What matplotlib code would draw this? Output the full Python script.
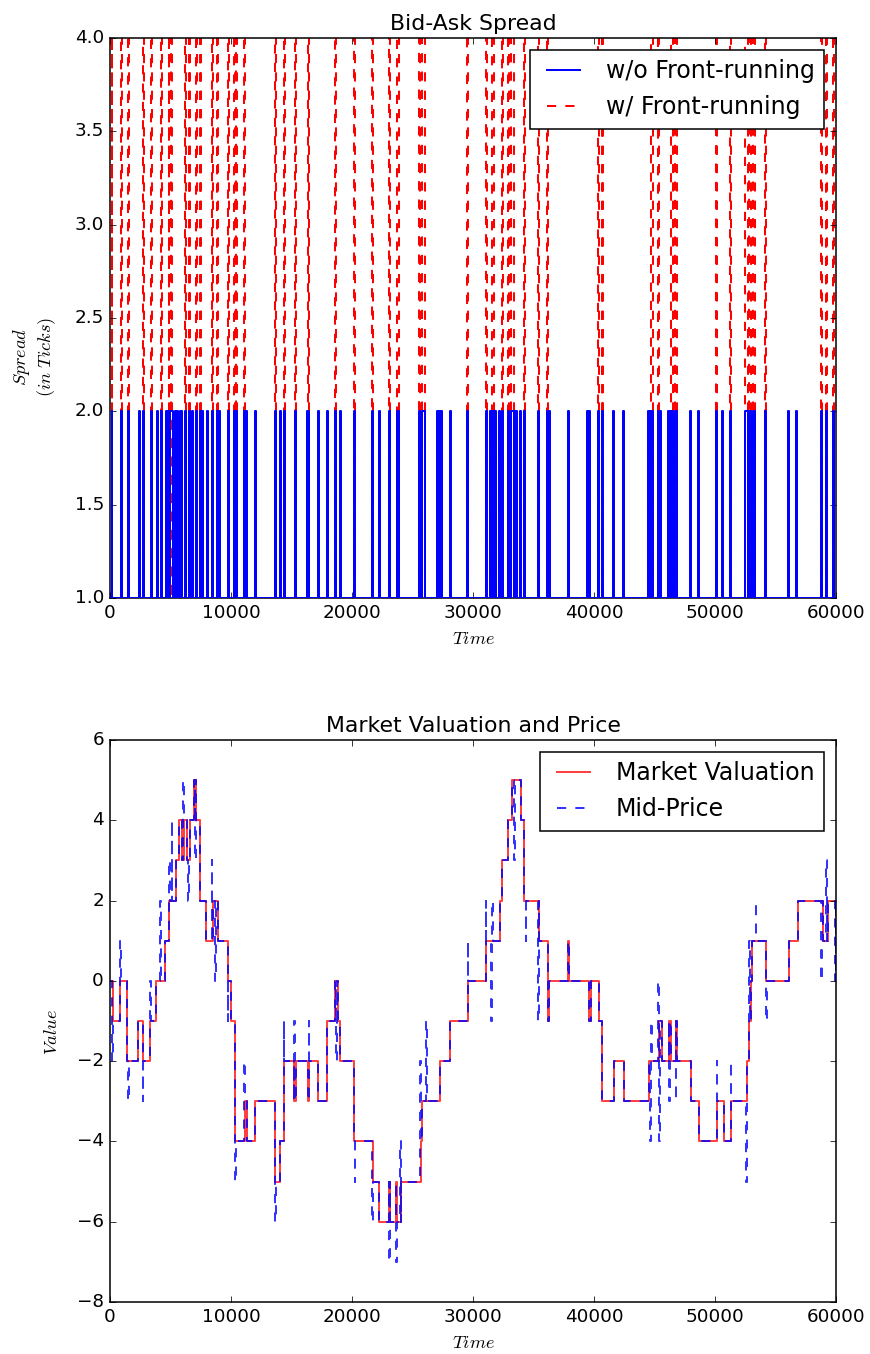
import numpy as np
import matplotlib.pyplot as plt

plt.style.use('classic')

# spread series: intervals (start, end) where the spread widens
spread_base = 1
no_fr_peak = 2
fr_peak = 6
no_fr_spikes = [(150, 200), (900, 960), (1500, 1600), (2400, 2450), (2720, 2780),
                (3380, 3430), (3880, 3930), (4210, 4260), (4630, 4700), (4800, 4900),
                (4950, 5200), (5380, 5450), (5550, 5650), (5750, 5950), (6200, 6250),
                (6530, 6580), (6780, 6830), (7100, 7160), (7430, 7480), (7600, 7650),
                (8010, 8060), (8430, 8480), (8840, 8890), (9000, 9050), (9750, 9800),
                (10250, 10300), (10420, 10500), (11070, 11150), (11250, 11320),
                (11980, 12030), (13630, 13680), (14050, 14100), (14380, 14430),
                (15290, 15340), (16280, 16330), (16400, 16450), (17190, 17240),
                (17950, 18000), (18590, 18640), (19000, 19050), (20160, 20210),
                (21650, 21700), (22230, 22280), (23050, 23100), (23750, 23850),
                (25550, 25650), (25800, 26030), (27020, 27150), (27300, 27440),
                (28100, 28150), (29500, 29550), (31070, 31120), (31400, 31480),
                (31600, 31700), (31850, 31900), (32150, 32200), (32400, 32480),
                (32890, 33000), (33100, 33400), (33500, 33640), (33880, 33950),
                (34200, 34300), (35370, 35420), (36110, 36160), (36300, 36360),
                (37850, 37900), (39420, 39470), (39600, 39670), (40330, 40400),
                (40650, 40740), (41570, 41620), (42400, 42450), (44460, 44600),
                (44750, 44880), (45290, 45340), (45480, 45540), (46110, 46250),
                (46400, 46500), (46700, 46860), (47930, 47980), (48600, 48650),
                (50080, 50130), (50580, 50630), (51240, 51290), (52480, 52700),
                (52800, 53000), (53100, 53300), (54130, 54180), (56030, 56080),
                (56690, 56740), (58760, 58810), (59170, 59220), (59750, 59800)]
fr_spikes = [(150, 200), (900, 960), (1500, 1600), (2720, 2780), (3380, 3430),
             (4210, 4260), (4850, 4900), (5000, 5150), (6200, 6250), (6530, 6580),
             (7100, 7160), (7430, 7480), (8430, 8480), (8840, 8890), (9750, 9800),
             (10250, 10300), (10420, 10500), (11070, 11150), (13630, 13680),
             (14380, 14430), (15290, 15340), (16400, 16450), (18590, 18640),
             (20160, 20210), (21650, 21700), (23050, 23100), (23750, 23850),
             (25550, 25650), (25800, 26030), (29500, 29550), (31070, 31120),
             (31600, 31700), (32400, 32480), (32890, 33000), (33100, 33400),
             (34200, 34300), (35370, 35420), (36110, 36160), (40330, 40400),
             (40650, 40740), (44750, 44880), (45290, 45340), (46400, 46500),
             (46700, 46860), (50080, 50130), (51240, 51290), (52480, 52700),
             (52800, 53000), (53100, 53300), (54130, 54180), (58760, 58810),
             (59170, 59220), (59750, 59800)]

# market valuation: step changes (time, new value)
val_times = [0, 250, 830, 1440, 2350, 2690, 3320, 3800, 4540, 4900, 5460, 5730,
             5950, 6100, 6350, 6600, 6980, 7120, 7450, 7950, 8500, 8920, 9750,
             10030, 10300, 11130, 11330, 11960, 13630, 14040, 14400, 15240, 15340,
             16380, 16480, 17230, 17920, 18620, 18810, 19030, 20200, 21740, 22220,
             23050, 23150, 23600, 23700, 24020, 25680, 25800, 27260, 28093, 29558,
             31050, 32236, 32374, 32927, 33258, 33977, 34253, 35468, 36188, 36300,
             37850, 37950, 39555, 39777, 40383, 40659, 41626, 42455, 44526, 45400,
             45600, 46184, 46350, 46739, 46900, 47982, 48672, 50192, 50745, 51298,
             52679, 52820, 52955, 53050, 54197, 56131, 56822, 58894, 59308]
val_values = [0, -1, 0, -2, -1, -2, -1, 0, 1, 2, 3, 4,
              3, 4, 3, 4, 5, 4, 2, 1, 2, 1, 0,
              -1, -4, -3, -4, -3, -5, -4, -2, -3, -2,
              -3, -2, -3, -1, 0, -1, -2, -4, -5, -6,
              -5, -6, -5, -6, -5, -4, -3, -2, -1, 0,
              1, 2, 3, 4, 5, 4, 2, 1, -1, 0,
              1, 0, -1, 0, -1, -3, -2, -3, -2, -1,
              -2, -1, -2, -1, -2, -3, -4, -3, -4, -3,
              -2, -1, 0, 1, 0, 1, 2, 1, 2]

# mid-price departures from the valuation (time, level)
mid_times = [200, 830, 1520, 2690, 3320, 4140, 4900, 5090, 6070, 6460, 7040, 8400,
             8700, 9720, 10360, 11100, 13670, 14370, 15240, 16430, 18700, 20220,
             21680, 23060, 23670, 23950, 25660, 26150, 29560, 31050, 31500, 31600,
             33300, 33400, 34340, 35380, 36200, 39600, 44640, 44700, 45300, 45400,
             46200, 46740, 50190, 51300, 52560, 52820, 53369, 54200, 58800, 59200,
             59900]
mid_values = [-2, 1, -3, -3, 0, 2, 3, 4, 5, 2, 3, 3,
              0, -1, -5, -2, -6, -1, -1, -1, -2, -5,
              -6, -7, -7, -4, -2, -1, 1, 2, -1, 2,
              5, 3, 1, -1, -1, -1, -4, -1, 0, -4,
              -3, -3, -2, -2, -5, 1, 2, -1, 0, 3,
              0]

t_end = 60000


def spike_path(spikes, base, peak):
    xs, ys = [0], [base]
    for a, b in spikes:
        xs += [a, a, b, b]
        ys += [base, peak, peak, base]
    xs.append(t_end)
    ys.append(base)
    return xs, ys


def step_path(times, values):
    return list(times) + [t_end], list(values) + [values[-1]]


def mid_path(times, values, exc_t, exc_v, dur=60):
    times = np.asarray(times)
    pts = list(zip(times, values))
    for t, v in zip(exc_t, exc_v):
        back = values[np.searchsorted(times, t + dur, side='right') - 1]
        pts.append((t, v))
        pts.append((t + dur, back))
    pts.sort(key=lambda p: p[0])
    xs = [p[0] for p in pts] + [t_end]
    ys = [p[1] for p in pts] + [pts[-1][1]]
    return xs, ys


W, H, DPI = 870, 1354, 110
fig = plt.figure(figsize=(W / DPI, H / DPI), dpi=DPI, facecolor='white')
lw = 1.3
legend_size = 15.5

ax1 = fig.add_axes([110 / W, 1 - 598 / H, 726 / W, 560 / H])
x, y = spike_path(no_fr_spikes, spread_base, no_fr_peak)
ax1.plot(x, y, 'b-', lw=lw, label='w/o Front-running', zorder=3)
x, y = spike_path(fr_spikes, spread_base, fr_peak)
ax1.plot(x, y, 'r--', lw=lw, label='w/ Front-running', zorder=2)
ax1.set_xlim(0, t_end)
ax1.set_ylim(1, 4)
ax1.set_title('Bid-Ask Spread')
ax1.set_xlabel(r'$Time$')
ax1.set_ylabel('$Spread$\n$(in\\ Ticks)$')
ax1.yaxis.set_label_coords(-0.072, 0.43)
ax1.legend(loc='upper right', prop={'size': legend_size})

ax2 = fig.add_axes([110 / W, 1 - 1302 / H, 726 / W, 562 / H])
x, y = step_path(val_times, val_values)
ax2.plot(x, y, 'r-', lw=lw, drawstyle='steps-post', alpha=0.75, label='Market Valuation')
x, y = mid_path(val_times, val_values, mid_times, mid_values)
ax2.plot(x, y, 'b--', lw=lw, drawstyle='steps-post', alpha=0.8, label='Mid-Price')
ax2.set_xlim(0, t_end)
ax2.set_ylim(-8, 6)
ax2.set_title('Market Valuation and Price')
ax2.set_xlabel(r'$Time$')
ax2.set_ylabel(r'$Value$')
ax2.yaxis.set_label_coords(-0.068, 0.48)
ax2.legend(loc='upper right', prop={'size': legend_size})

fig.savefig('out.png', dpi=DPI, facecolor='white')
